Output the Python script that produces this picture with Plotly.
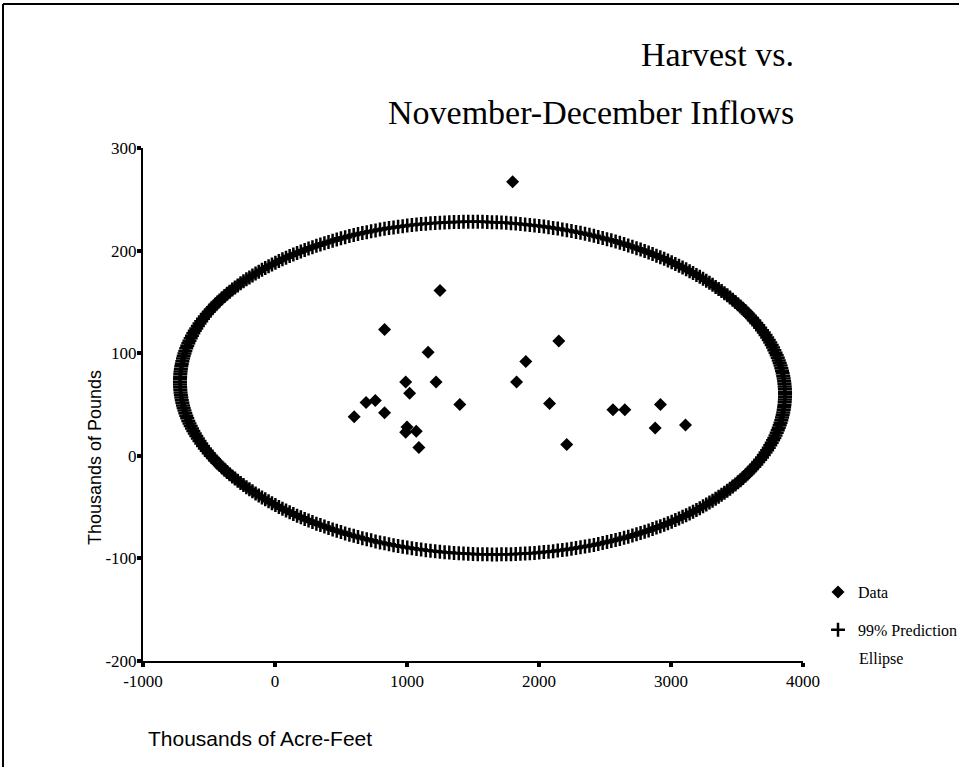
import numpy as np
import plotly.graph_objects as go

# ---- data ----
inflow = [600, 690, 760, 830, 830, 990, 990, 1000, 1020, 1070, 1090, 1160, 1220,
          1250, 1400, 1800, 1830, 1900, 2080, 2150, 2210, 2560, 2650, 2880, 2920, 3110]
harvest = [38, 52, 54, 42, 123, 72, 23, 28, 61, 24, 8, 101, 72,
           161, 50, 267, 72, 92, 51, 112, 11, 45, 45, 27, 50, 30]

# 99% prediction ellipse parameters
ell_cx, ell_cy = 1572, 66
ell_ax, ell_by = 2292, 162
ell_tilt = -6
ell_n = 400

x_ticks = [-1000, 0, 1000, 2000, 3000, 4000]
y_ticks = [-200, -100, 0, 100, 200, 300]

t = np.linspace(0, 2 * np.pi, ell_n, endpoint=False)
ell_x = ell_cx + ell_ax * np.cos(t)
ell_y = ell_cy + ell_by * np.sin(t) + ell_tilt * np.cos(t)

W, H = 959, 767
L, R, T, B = 143, 156, 148, 106
pw, ph = W - L - R, H - T - B

def px(xp):
    return (xp - L) / pw

def py(yp):
    return (H - B - yp) / ph

fig = go.Figure()
fig.add_trace(go.Scatter(
    x=inflow, y=harvest, mode="markers", name="Data", legendgroup="a",
    marker=dict(symbol="diamond", size=10, color="black"), cliponaxis=False))
fig.add_trace(go.Scatter(
    x=ell_x, y=ell_y, mode="markers", name="99% Prediction", legendgroup="b",
    marker=dict(symbol="cross-thin", size=10, color="black",
                line=dict(color="black", width=2.5)), cliponaxis=False))

serif = "Liberation Serif, Times New Roman, serif"
sans = "Liberation Sans, Arial, sans-serif"

axis_common = dict(showgrid=False, zeroline=False, showline=True, linecolor="black",
                   linewidth=2, ticks="outside", ticklen=4, tickwidth=4, tickcolor="black",
                   tickfont=dict(family=serif, size=17, color="black"), mirror=False)
fig.update_xaxes(range=[-1000, 4000], tickvals=x_ticks, ticktext=[str(v) for v in x_ticks],
                 **axis_common)
fig.update_yaxes(range=[-200, 300], tickvals=y_ticks, ticktext=[str(v) for v in y_ticks],
                 ticklabelstandoff=-3, **axis_common)

fig.update_layout(
    width=W, height=H, margin=dict(l=L, r=R, t=T, b=B, autoexpand=False),
    paper_bgcolor="white", plot_bgcolor="white",
    showlegend=True,
    legend=dict(x=px(818), y=py(575), xanchor="left", yanchor="top", valign="top",
                font=dict(family=serif, size=16, color="black"),
                traceorder="grouped", tracegroupgap=14, bgcolor="rgba(0,0,0,0)"),
    annotations=[
        dict(text="Harvest vs.", x=px(796), y=py(55), xref="paper", yref="paper",
             xanchor="right", yanchor="middle",
             showarrow=False, font=dict(family=serif, size=34, color="black")),
        dict(text="November-December Inflows", x=px(796), y=py(112), xref="paper", yref="paper",
             xanchor="right", yanchor="middle",
             showarrow=False, font=dict(family=serif, size=34, color="black")),
        dict(text="Ellipse", x=px(857), y=py(659), xref="paper", yref="paper",
             xanchor="left", yanchor="middle",
             showarrow=False, font=dict(family=serif, size=16, color="black")),
        dict(text="Thousands of Acre-Feet", x=px(146), y=py(738), xref="paper", yref="paper",
             xanchor="left", yanchor="middle",
             showarrow=False, font=dict(family=sans, size=21, color="black")),
        dict(text="Thousands of Pounds", x=px(95), y=py(458), xref="paper", yref="paper",
             xanchor="center", yanchor="middle",
             textangle=-90, showarrow=False, font=dict(family=sans, size=18, color="black")),
    ],
    shapes=[
        dict(type="line", xref="paper", yref="paper", x0=px(3), y0=py(4), x1=px(3), y1=py(800),
             line=dict(color="black", width=2)),
        dict(type="line", xref="paper", yref="paper", x0=px(3), y0=py(4), x1=px(1000), y1=py(4),
             line=dict(color="black", width=2)),
    ],
)

fig.write_html(
    "out.html",
    config={"displayModeBar": False},
    post_script="document.body.style.margin='0';document.body.style.padding='0';"
                "document.body.style.overflow='hidden';",
)
